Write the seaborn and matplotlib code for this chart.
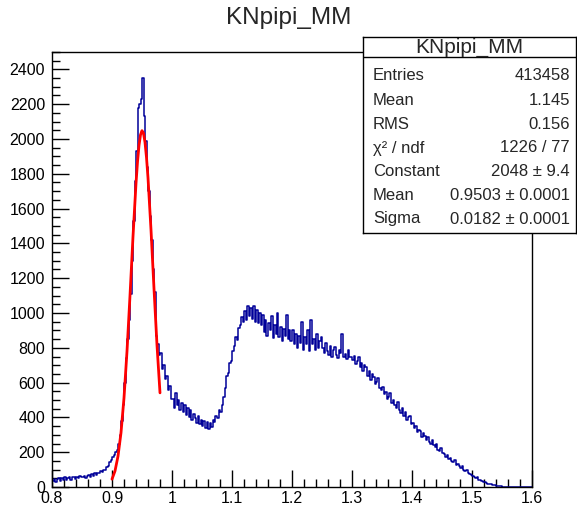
import numpy as np
import pandas as pd
import matplotlib
matplotlib.use('Agg')
import matplotlib.pyplot as plt
import matplotlib.ticker as mticker
import seaborn as sns

# histogram KNpipi_MM: 320 bins, 0.8 .. 1.6 (rows of 20 bins = 0.05 each)
x_lo, x_hi, nbins = 0.8, 1.6, 320
counts = [
    35, 48, 30, 45, 52, 36, 50, 40, 55, 38, 50, 58, 42, 55, 60, 45, 58, 50, 64, 55,
    60, 66, 52, 65, 70, 60, 74, 64, 78, 70, 82, 80, 90, 85, 100, 98, 115, 122, 145, 155,
    170, 185, 200, 215, 250, 300, 380, 470, 600, 740, 850, 960, 1110, 1300, 1530, 1760, 1930, 2180, 2200, 2230,
    2350, 2130, 1990, 1840, 1700, 1560, 1420, 1250, 1120, 870, 820, 760, 770, 680, 700, 620, 640, 560, 580, 505,
    505, 455, 540, 470, 500, 445, 485, 430, 470, 415, 455, 400, 440, 385, 420, 395, 365, 410, 360, 385,
    350, 380, 340, 372, 335, 365, 345, 385, 372, 410, 398, 440, 430, 470, 520, 570, 640, 655, 710, 725,
    780, 810, 860, 845, 915, 930, 975, 950, 1010, 960, 1040, 985, 1030, 965, 1040, 950, 1020, 940, 1000, 930,
    990, 890, 960, 870, 945, 900, 980, 855, 930, 880, 1000, 860, 920, 840, 910, 870, 990, 850, 900, 840,
    900, 820, 880, 800, 870, 830, 950, 790, 860, 820, 900, 780, 960, 820, 850, 790, 880, 800, 840, 860,
    800, 770, 825, 780, 760, 810, 745, 790, 805, 760, 740, 785, 770, 880, 745, 765, 735, 790, 750, 745,
    730, 755, 705, 725, 745, 690, 710, 665, 700, 690, 640, 665, 615, 650, 630, 590, 605, 625, 570, 560,
    575, 535, 545, 505, 520, 540, 480, 500, 470, 455, 490, 440, 425, 455, 410, 430, 385, 400, 410, 360,
    365, 340, 350, 315, 330, 320, 290, 310, 295, 270, 285, 260, 250, 272, 240, 232, 248, 215, 205, 222,
    195, 188, 172, 185, 160, 168, 150, 145, 155, 128, 132, 118, 112, 120, 98, 94, 100, 80, 76, 70,
    64, 58, 52, 55, 42, 40, 36, 30, 28, 25, 20, 18, 15, 12, 11, 9, 7, 6, 4, 3,
    2, 1, 1, 0, 1, 0, 0, 0, 0, 0, 0, 0, 0, 0, 0, 0, 0, 0, 0, 0,
]

# gaussian fit curve (red), range 0.90 .. 0.98
fit_x = [0.900, 0.905, 0.910, 0.915, 0.920, 0.925, 0.930, 0.935, 0.940, 0.9425,
         0.945, 0.9475, 0.950, 0.9525, 0.955, 0.9575, 0.960, 0.965, 0.970, 0.975, 0.980]
fit_y = [45, 92, 177, 312, 512, 780, 1100, 1439, 1745, 1868,
         1963, 2024, 2048, 2033, 1981, 1894, 1777, 1478, 1140, 815, 541]

# stats box
stat_title = 'KNpipi_MM'
stat_names = ['Entries', 'Mean', 'RMS', 'χ² / ndf', 'Constant', 'Mean', 'Sigma']
stat_values = ['413458', '1.145', '0.156', '1226 / 77', '2048 ± 9.4',
               '0.9503 ± 0.0001', '0.0182 ± 0.0001']

sns.set_style('ticks')
plt.rcParams['font.family'] = ['Liberation Sans', 'DejaVu Sans']

edges = np.linspace(x_lo, x_hi, nbins + 1)
d = pd.DataFrame({'mm': (edges[:-1] + edges[1:]) / 2, 'n': counts})
f = pd.DataFrame({'x': fit_x, 'y': fit_y})

W, H = 577, 508
fig = plt.figure(figsize=(W / 100, H / 100), dpi=100)
ax = fig.add_axes([52 / W, 21 / H, 480 / W, 435 / H])

sns.histplot(data=d, x='mm', weights='n', bins=nbins, binrange=(x_lo, x_hi),
             element='step', fill=False, color='#000099', linewidth=1.1, ax=ax)
sns.lineplot(data=f, x='x', y='y', color='#ff0000', linewidth=2, estimator=None, ax=ax)

ax.set_xlim(x_lo, x_hi)
ax.set_ylim(0, 2500)
ax.set_xlabel('')
ax.set_ylabel('')
ax.xaxis.set_major_locator(mticker.MultipleLocator(0.1))
ax.xaxis.set_minor_locator(mticker.MultipleLocator(0.02))
ax.yaxis.set_major_locator(mticker.MultipleLocator(200))
ax.yaxis.set_minor_locator(mticker.MultipleLocator(50))
ax.xaxis.set_major_formatter(mticker.FuncFormatter(lambda v, p: '%g' % round(v, 3)))
ax.tick_params(which='both', direction='in', top=False, right=False, colors='black',
               labelsize=11.5, width=1)
ax.tick_params(axis='x', which='major', length=12, pad=3)
ax.tick_params(axis='x', which='minor', length=6)
ax.tick_params(axis='y', which='major', length=12, pad=5)
ax.tick_params(axis='y', which='minor', length=6)
for s in ax.spines.values():
    s.set_visible(True)
    s.set_color('black')
    s.set_linewidth(1)

fig.text(0.5, 1 - 18 / H, 'KNpipi_MM', ha='center', va='center', fontsize=17.5)

# stats box drawn in its own axes
bx0, bx1, by0, by1 = 363, 576, 37, 233
sax = fig.add_axes([bx0 / W, 1 - by1 / H, (bx1 - bx0) / W, (by1 - by0) / H])
sax.set_xlim(bx0, bx1)
sax.set_ylim(by1, by0)
sax.set_facecolor('white')
sax.set_xticks([])
sax.set_yticks([])
for s in sax.spines.values():
    s.set_color('black')
    s.set_linewidth(1)
sax.axhline(57, color='black', linewidth=1)
sax.text((bx0 + bx1) / 2, 47, stat_title, ha='center', va='center', fontsize=15)
rows_y = [75, 100, 124, 148, 172, 196, 219]
for name, val, yy in zip(stat_names, stat_values, rows_y):
    sax.text(373, yy, name, ha='left', va='center', fontsize=12)
    sax.text(570, yy, val, ha='right', va='center', fontsize=12)

plt.savefig('out.png', dpi=100)
